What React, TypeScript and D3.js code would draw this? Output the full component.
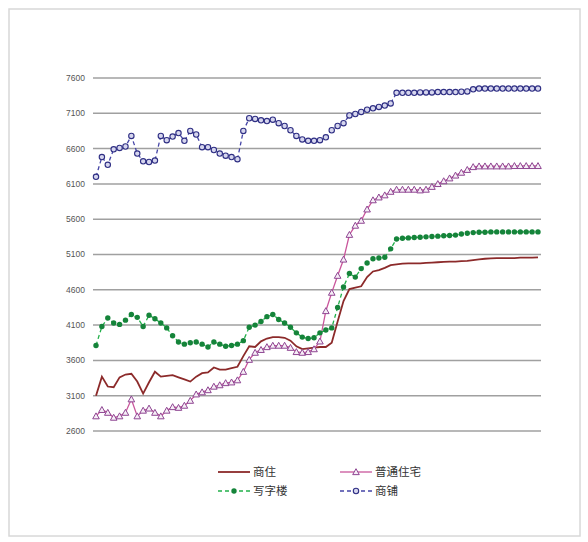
import * as d3 from 'd3';

// tick values on the left axis
const yTicks = [2600, 3100, 3600, 4100, 4600, 5100, 5600, 6100, 6600, 7100, 7600];

// 商住
const shangzhu = [
  3100, 3370, 3230, 3220, 3360, 3400, 3410, 3300, 3130, 3290, 3440, 3370, 3380, 3390, 3360, 3330,
  3300, 3370, 3420, 3430, 3500, 3470, 3470, 3490, 3510, 3660, 3800, 3790, 3870, 3910, 3930, 3930,
  3920, 3880, 3800, 3760, 3770, 3780, 3790, 3790, 3850, 4150, 4440, 4610, 4630, 4650, 4780, 4860,
  4880, 4910, 4950, 4960, 4970, 4975, 4975, 4975, 4980, 4985, 4990, 4995, 5000, 5000, 5005, 5010,
  5020, 5030, 5040, 5045, 5050, 5050, 5050, 5050, 5055, 5055, 5055, 5060,
];

// 普通住宅
const putong = [
  2810, 2900, 2860, 2790, 2810, 2860, 3050, 2810, 2890, 2920, 2860, 2810, 2890, 2940, 2930, 2960,
  3030, 3120, 3150, 3180, 3230, 3250, 3280, 3290, 3320, 3440, 3610, 3710, 3750, 3790, 3810, 3810,
  3810, 3780, 3720, 3710, 3720, 3760, 3870, 4300, 4560, 4800, 5030, 5380, 5510, 5580, 5740, 5870,
  5910, 5940, 5990, 6020, 6020, 6020, 6020, 6010, 6020, 6060, 6100, 6140, 6180, 6220, 6260, 6300,
  6340, 6350, 6350, 6350, 6350, 6350, 6350, 6355, 6355, 6355, 6355, 6355,
];

// 写字楼
const xiezilou = [
  3810, 4080, 4200, 4130, 4110, 4170, 4250, 4210, 4080, 4240, 4190, 4130, 4060, 3950, 3860, 3830,
  3850, 3860, 3830, 3790, 3860, 3830, 3800, 3810, 3830, 3880, 4070, 4100, 4150, 4220, 4250, 4180,
  4130, 4070, 3990, 3930, 3910, 3920, 3990, 4030, 4060, 4350, 4640, 4830, 4780, 4900, 4980, 5040,
  5050, 5060, 5180, 5320, 5330, 5335, 5340, 5345, 5350, 5355, 5360, 5365, 5370, 5375, 5390, 5400,
  5410, 5415, 5415, 5420, 5420, 5420, 5420, 5420, 5420, 5420, 5420, 5420,
];

// 商铺
const shangpu = [
  6200, 6480, 6370, 6590, 6610, 6630, 6780, 6530, 6420, 6410, 6430, 6780, 6720, 6770, 6820, 6710,
  6850, 6800, 6620, 6620, 6580, 6530, 6500, 6480, 6450, 6850, 7030, 7020, 7000, 6990, 7010, 6960,
  6920, 6860, 6780, 6730, 6710, 6710, 6720, 6760, 6860, 6920, 6960, 7070, 7090, 7120, 7150, 7170,
  7190, 7210, 7240, 7390, 7390, 7390, 7390, 7395, 7395, 7395, 7400, 7400, 7400, 7400, 7405, 7410,
  7440, 7450, 7450, 7450, 7450, 7450, 7450, 7450, 7450, 7450, 7450, 7450,
];

type Series = {
  name: string;
  values: number[];
  stroke: string;
  dash?: string;
  marker: 'none' | 'triangle' | 'dot' | 'circle';
  markerColor: string;
};

const series: Series[] = [
  { name: '商住', values: shangzhu, stroke: '#8c2a2a', marker: 'none', markerColor: '#8c2a2a' },
  { name: '普通住宅', values: putong, stroke: '#c9559b', marker: 'triangle', markerColor: '#8e4592' },
  { name: '写字楼', values: xiezilou, stroke: '#22b04a', dash: '4,3', marker: 'dot', markerColor: '#15843a' },
  { name: '商铺', values: shangpu, stroke: '#4444a6', dash: '4,3', marker: 'circle', markerColor: '#2f2f84' },
];

const width = 588;
const height = 542;

function Marker({ kind, x, y, color }: { kind: Series['marker']; x: number; y: number; color: string }) {
  if (kind === 'triangle') {
    const s = 3.3;
    return (
      <path
        d={`M${x},${y - s}L${x + s},${y + s * 0.8}L${x - s},${y + s * 0.8}Z`}
        fill='#f6eef6'
        stroke={color}
        strokeWidth={1}
      />
    );
  }
  if (kind === 'dot') return <circle cx={x} cy={y} r={2.7} fill={color} />;
  if (kind === 'circle')
    return <circle cx={x} cy={y} r={2.7} fill='#d6d6ee' stroke={color} strokeWidth={1.1} />;
  return null;
}

export default function App() {
  const n = shangzhu.length;
  const x = d3.scaleLinear().domain([0, n - 1]).range([96, 538]);
  const y = d3.scaleLinear().domain([2600, 7600]).range([431, 78]);
  const line = d3
    .line<number>()
    .x((_, i) => x(i))
    .y((d) => y(d));

  const legendPos = [
    [218, 472],
    [340, 472],
    [218, 491],
    [340, 491],
  ];

  return (
    <svg
      width={width}
      height={height}
      style={{ position: 'absolute', left: 0, top: 0, background: '#fff' }}
      fontFamily='"Noto Sans CJK SC", "DejaVu Sans", sans-serif'
    >
      <rect x={9} y={9} width={571} height={527} fill='#fff' stroke='#d8d8d8' strokeWidth={1.5} />

      {yTicks.map((t) => (
        <g key={t}>
          <line x1={93} x2={541} y1={y(t)} y2={y(t)} stroke='#a0a0a0' strokeWidth={1.5} />
          <text
            x={85}
            y={y(t)}
            dy='0.35em'
            textAnchor='end'
            fontSize={8.5}
            fill='#555'
            fontFamily='"Liberation Sans", Arial, sans-serif'
          >
            {t}
          </text>
        </g>
      ))}

      {series.map((s) => (
        <g key={s.name}>
          <path
            d={line(s.values) ?? ''}
            fill='none'
            stroke={s.stroke}
            strokeWidth={s.marker === 'none' ? 1.8 : 1.3}
            strokeDasharray={s.dash}
          />
          {s.values.map((v, i) => (
            <Marker key={i} kind={s.marker} x={x(i)} y={y(v)} color={s.markerColor} />
          ))}
        </g>
      ))}

      {series.map((s, i) => {
        const [lx, ly] = legendPos[i];
        return (
          <g key={s.name}>
            <line
              x1={lx}
              x2={lx + 32}
              y1={ly}
              y2={ly}
              stroke={s.stroke}
              strokeWidth={s.marker === 'none' ? 1.8 : 1.3}
              strokeDasharray={s.dash}
            />
            <Marker kind={s.marker} x={lx + 16} y={ly} color={s.markerColor} />
            <text x={lx + 35} y={ly} dy='0.36em' fontSize={11.5} fill='#333'>
              {s.name}
            </text>
          </g>
        );
      })}
    </svg>
  );
}
